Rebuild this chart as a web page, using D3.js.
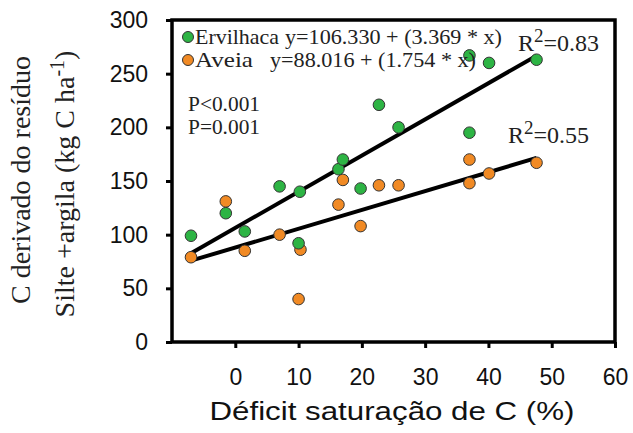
<!DOCTYPE html>
<html><head><meta charset="utf-8">
<script src="https://cdn.jsdelivr.net/npm/d3@7"></script>
<style>body{margin:0;background:#fff}</style></head>
<body>
<svg id="c" width="633" height="433"></svg>
<script>
// Data
const ervX = [-7, -1.5, 1.5, 7, 10.2, 10, 16.3, 17, 19.8, 22.7, 25.8, 37, 37, 40.1, 47.6];
const ervY = [99, 120, 103, 145, 140, 92, 161, 170, 143, 221, 200, 195, 267, 260, 263];
const aveX = [-7, -1.5, 1.5, 7, 10.3, 10, 16.3, 17, 19.8, 22.7, 25.8, 37, 37, 40.1, 47.6];
const aveY = [79, 131, 85, 100, 86, 40, 128, 151, 108, 146, 146, 170, 148, 157, 167];
const ervFit = [106.330, 3.369];
const aveFit = [88.016, 1.754];
const xTicks = [0, 10, 20, 30, 40, 50, 60];
const yTicks = [0, 50, 100, 150, 200, 250, 300];
const seriesNames = ["Ervilhaca", "Aveia"];
const equations = ["y=106.330 + (3.369 * x)", "y=88.016 + (1.754 * x)"];
const r2Labels = ["0.83", "0.55"];
const pLabels = ["P<0.001", "P=0.001"];

const GREEN = "#2db444", ORANGE = "#f18a24";
const svg = d3.select("#c");
const x = d3.scaleLinear().domain([-10, 60]).range([172, 615]);
const y = d3.scaleLinear().domain([0, 300]).range([342, 20]);
const serif = "'Liberation Serif','Times New Roman',serif";
const sans = "'Liberation Sans',Arial,sans-serif";

// axes
const gx = svg.append("g").attr("transform", "translate(0,342)")
  .call(d3.axisBottom(x).tickValues(xTicks).tickSize(6).tickPadding(21).tickFormat(d3.format("d")));
const gy = svg.append("g").attr("transform", "translate(172,0)")
  .call(d3.axisLeft(y).tickValues(yTicks).tickSize(6).tickPadding(18).tickFormat(d3.format("d")));
[gx, gy].forEach(g => {
  g.select(".domain").remove();
  g.selectAll(".tick line").attr("stroke", "#000").attr("stroke-width", 3);
  g.selectAll(".tick text").attr("fill", "#111").style("font-family", sans).style("font-size", "23px");
});
// frame
svg.append("rect").attr("x", x(-10)).attr("y", y(300)).attr("width", x(60) - x(-10)).attr("height", y(0) - y(300))
  .attr("fill", "none").attr("stroke", "#000").attr("stroke-width", 3.5);

// regression lines
const fitLine = (fit, xs) => {
  const x0 = d3.min(xs), x1 = d3.max(xs);
  svg.append("line").attr("x1", x(x0)).attr("y1", y(fit[0] + fit[1] * x0))
    .attr("x2", x(x1)).attr("y2", y(fit[0] + fit[1] * x1))
    .attr("stroke", "#000").attr("stroke-width", 4);
};
fitLine(ervFit, ervX);
fitLine(aveFit, aveX);

// points
const pts = (xs, ys, col) => svg.append("g").selectAll("circle").data(xs.map((v, i) => [v, ys[i]])).join("circle")
  .attr("cx", d => x(d[0])).attr("cy", d => y(d[1])).attr("r", 5.8)
  .attr("fill", col).attr("stroke", "#333").attr("stroke-width", 1);
pts(aveX, aveY, ORANGE);
pts(ervX, ervY, GREEN);

// legend
const legY = [37, 60];
const legCols = [GREEN, ORANGE];
const nameLen = [84, 58];
const eqX = [285, 270];
const eqLen = [217, 206];
seriesNames.forEach((n, i) => {
  svg.append("circle").attr("cx", 188).attr("cy", legY[i]).attr("r", 5.5).attr("fill", legCols[i]).attr("stroke", "#333");
  svg.append("text").attr("x", 195).attr("y", legY[i] + 6.5).text(n)
    .attr("textLength", nameLen[i]).attr("lengthAdjust", "spacingAndGlyphs")
    .style("font-family", serif).style("font-size", "21px").attr("fill", "#222");
  svg.append("text").attr("x", eqX[i]).attr("y", legY[i] + 6.5).text(equations[i])
    .attr("textLength", eqLen[i]).attr("lengthAdjust", "spacingAndGlyphs")
    .style("font-family", serif).style("font-size", "21px").attr("fill", "#222");
});

// P values
pLabels.forEach((p, i) => {
  svg.append("text").attr("x", 188).attr("y", 111 + i * 23).text(p)
    .attr("textLength", 72).attr("lengthAdjust", "spacingAndGlyphs")
    .style("font-family", serif).style("font-size", "20px").attr("fill", "#222");
});

// R2 labels
const r2Pos = [[518, 51], [508, 143]];
r2Labels.forEach((r, i) => {
  const t = svg.append("text").attr("x", r2Pos[i][0]).attr("y", r2Pos[i][1])
    .style("font-family", serif).style("font-size", "24px").attr("fill", "#222");
  t.append("tspan").text("R");
  t.append("tspan").attr("dy", -9).style("font-size", "19px").text("2");
  t.append("tspan").attr("dy", 9).text("=" + r);
});

// axis titles
svg.append("text").attr("x", 392).attr("y", 420).attr("text-anchor", "middle")
  .text("Déficit saturação de C (%)")
  .attr("textLength", 365).attr("lengthAdjust", "spacingAndGlyphs")
  .style("font-family", sans).style("font-size", "25px").attr("fill", "#111");

svg.append("text").attr("transform", "translate(30,180) rotate(-90)").attr("text-anchor", "middle")
  .text("C derivado do resíduo")
  .style("font-family", serif).style("font-size", "28px").attr("fill", "#222");
const yt2 = svg.append("text").attr("transform", "translate(74,184) rotate(-90)").attr("text-anchor", "middle")
  .style("font-family", serif).style("font-size", "28px").attr("fill", "#222");
yt2.append("tspan").text("Silte +argila (kg C ha");
yt2.append("tspan").attr("dy", -10).style("font-size", "20px").text("-1");
yt2.append("tspan").attr("dy", 10).text(")");
</script>
</body></html>
